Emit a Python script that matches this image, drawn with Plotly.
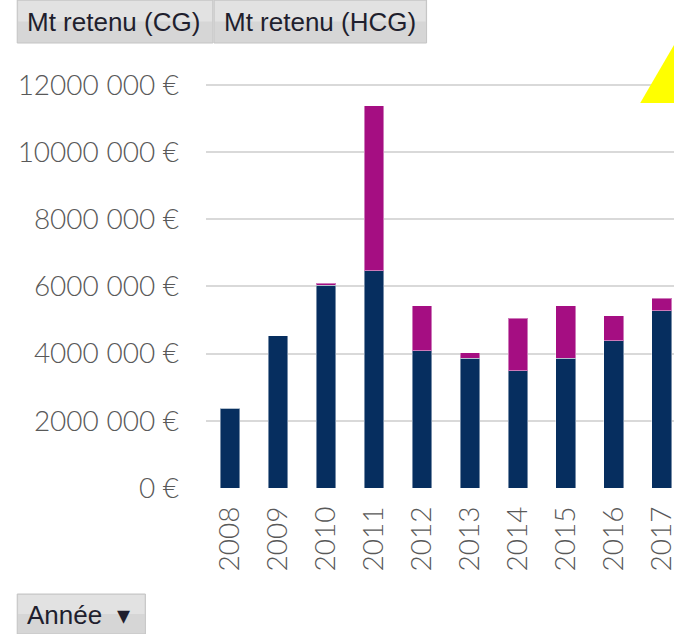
import plotly.graph_objects as go

annees = ["2008", "2009", "2010", "2011", "2012", "2013", "2014", "2015", "2016", "2017"]
mt_cg = [2370000, 4540000, 6030000, 6470000, 4090000, 3860000, 3490000, 3860000, 4390000, 5280000]
mt_hcg = [0, 0, 70000, 4910000, 1340000, 160000, 1560000, 1570000, 740000, 370000]

y_ticks = [0, 2000000, 4000000, 6000000, 8000000, 10000000, 12000000]
y_labels = ["0 €", "2000 000 €", "4000 000 €", "6000 000 €", "8000 000 €", "10000 000 €", "12000 000 €"]

W, H = 677, 634
L, R, T, B = 206, 0, 45, 146
pw, ph = W - L - R, H - T - B


# window pixel -> paper helpers for the decorations outside the plot
def px(x):
    return (x - L) / pw


def py(y):
    return (H - B - y) / ph


axis_font = dict(family="Lato, Noto Sans, sans-serif", size=28, color="#595959", weight=300)

fig = go.Figure()

fig.add_trace(go.Bar(
    x=annees, y=mt_cg,
    name="Mt retenu (CG)",
    width=0.41,
    marker=dict(color="#062e5f", line=dict(color="rgba(255,255,255,0.45)", width=1))
))

fig.add_trace(go.Bar(
    x=annees, y=mt_hcg,
    name="Mt retenu (HCG)",
    width=0.41,
    marker=dict(color="#a50e82", line=dict(color="rgba(255,255,255,0.45)", width=1))
))

fig.update_layout(
    width=W, height=H,
    margin=dict(l=L, r=R, t=T, b=B),
    barmode="stack",
    showlegend=False,
    plot_bgcolor="white",
    paper_bgcolor="white",
    xaxis=dict(
        type="category",
        range=[-0.5, 9.255],
        tickangle=-90,
        tickfont=axis_font,
        ticks="",
        showgrid=False,
        showline=False,
        ticklabelstandoff=12,
    ),
    yaxis=dict(
        range=[0, 13190000],
        tickvals=y_ticks,
        ticktext=y_labels,
        tickfont=axis_font,
        ticks="",
        showgrid=True,
        gridcolor="#d9d9d9",
        gridwidth=2,
        zeroline=False,
        showline=False,
        ticklabelstandoff=26,
    ),
)

# yellow corner marker
fig.add_shape(
    type="path",
    xref="paper", yref="paper",
    path=f"M {px(643)},{py(103)} L {px(677)},{py(103)} L {px(677)},{py(45)} Z",
    fillcolor="#ffff00", line=dict(width=0),
)

# pivot field buttons (lighter top half for the gradient look)
buttons = [
    ("Mt retenu (CG)", 16, 213, 0, 43),
    ("Mt retenu (HCG)", 214, 428, 0, 43),
    ("Année  ▾", 16, 145, 594, 634),
]
for label, x0, x1, y0, y1 in buttons:
    fig.add_shape(
        type="rect", xref="paper", yref="paper",
        x0=px(x0), x1=px(x1), y0=py(y1), y1=py(y0),
        fillcolor="#d6d6d6", line=dict(color="#c4c4c4", width=1),
        layer="above",
    )
    fig.add_shape(
        type="rect", xref="paper", yref="paper",
        x0=px(x0 + 1), x1=px(x1 - 1), y0=py((y0 + y1) / 2), y1=py(y0 + 1),
        fillcolor="#e2e2e2", line=dict(width=0),
        layer="above",
    )
    fig.add_annotation(
        xref="paper", yref="paper",
        x=px(x0 + 8), y=py((y0 + y1) / 2 + 1),
        xanchor="left", yanchor="middle",
        text=label, showarrow=False,
        font=dict(family="Liberation Sans, Arial, sans-serif", size=26, color="#1f1f2e"),
    )

# drop the default 8px page margin so the figure fills the window
fig.write_html(
    "out.html",
    config={"displayModeBar": False},
    post_script="document.body.style.margin = '0';",
)
